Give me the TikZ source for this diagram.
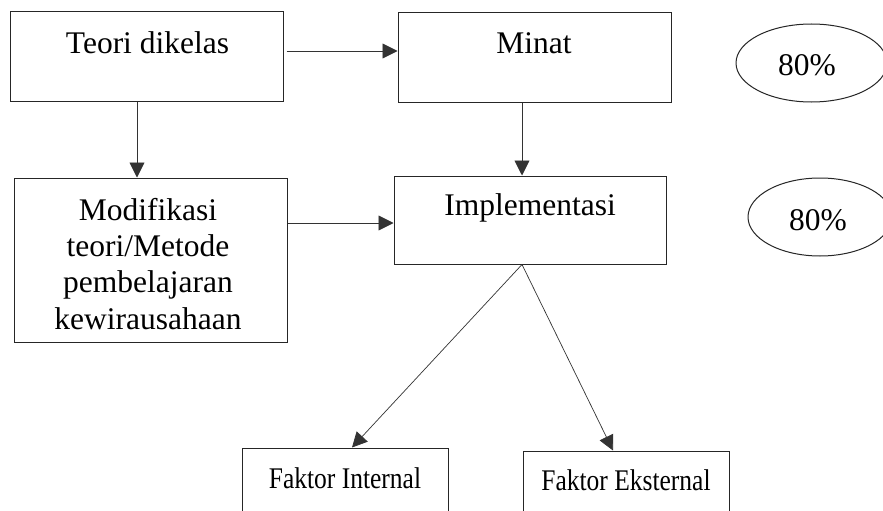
\documentclass[tikz,border=0pt]{standalone}
\usepackage{fontspec}
\setmainfont{Liberation Serif}
\usetikzlibrary{arrows.meta,shapes.geometric}
\begin{document}
\begin{tikzpicture}[x=1pt,y=-1pt,
  box/.style={draw=black!85,line width=1pt,minimum width=#1,inner sep=0pt,rectangle},
  lbl/.style={font=\fontsize{31.5}{36.3}\selectfont,inner sep=0pt,anchor=base,align=center},
  narrow/.style={font=\fontsize{30}{34}\selectfont,inner sep=0pt,anchor=base,xscale=0.85},
  ell/.style={draw=black!85,line width=1pt,ellipse,inner sep=0pt},
  arr/.style={draw=black!80,line width=0.9pt,-{Triangle[length=15pt,width=15pt]}},
  thinarr/.style={draw=black!80,line width=0.7pt,-{Triangle[length=15pt,width=15pt]}}]
\useasboundingbox (0,0) rectangle (883,511);
\clip (0,0) rectangle (883,511);
\fill[white] (0,0) rectangle (883,511);
% boxes
\node[box=273pt,minimum height=89pt] (teori) at (146.5,56.5) {};
\node[box=273pt,minimum height=89pt] (minat) at (534.5,57.5) {};
\node[box=273pt,minimum height=164pt] (modif) at (150.5,260) {};
\node[box=272pt,minimum height=88pt] (impl) at (530,220) {};
\node[box=206pt,minimum height=89pt] (fi) at (345,492.5) {};
\node[box=206pt,minimum height=89pt] (fe) at (626,495.5) {};
\node[ell,minimum width=151pt,minimum height=78pt] (e1) at (811.5,63) {};
\node[ell,minimum width=144pt,minimum height=78pt] (e2) at (820,217) {};
% texts
\node[lbl] (tteori) at (147.5,53) {Teori dikelas};
\node[lbl] (tminat) at (534,53) {Minat};
\node[lbl] (tmodif) at (148,329) {Modifikasi\\teori/Metode\\pembelajaran\\kewirausahaan};
\node[lbl] (timpl) at (530,215) {Implementasi};
\node[narrow] (tfi) at (345,488) {Faktor Internal};
\node[narrow] (tfe) at (626,490) {Faktor Eksternal};
\node[lbl] (te1) at (807,75) {80\%};
\node[lbl] (te2) at (818,230) {80\%};
% connectors
\draw[arr] ([xshift=3pt,yshift=5.5pt]teori.east) -- ([yshift=5.5pt]teori.east -| minat.west);
\draw[arr] ([xshift=-9.5pt]teori.south) -- ([xshift=-9.5pt]teori.south |- modif.north);
\draw[arr] ([xshift=-12.5pt]minat.south) -- ([xshift=-12.5pt]minat.south |- impl.north);
\draw[arr] ([yshift=-3pt]impl.west -| modif.east) -- ([yshift=-3pt]impl.west);
\draw[thinarr] ([xshift=-8pt]impl.south) -- ([xshift=7pt]fi.north);
\draw[thinarr] ([xshift=-8pt]impl.south) -- ([xshift=-13pt]fe.north);
\end{tikzpicture}
\end{document}
